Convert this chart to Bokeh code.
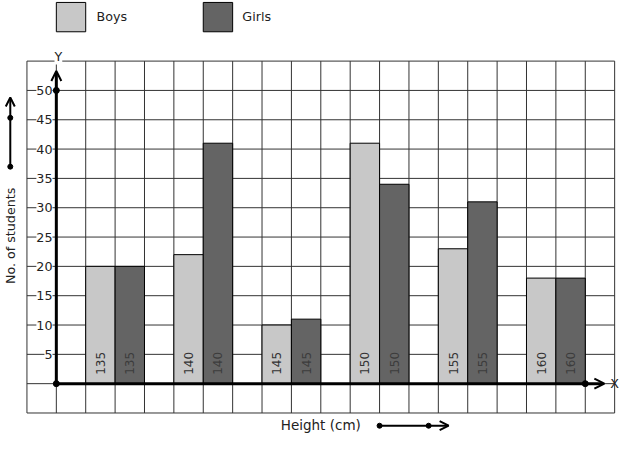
import numpy as np
from bokeh.plotting import figure
from bokeh.models import Range1d, Arrow, OpenHead
from bokeh.core.properties import value
from bokeh.embed import file_html
from bokeh.resources import INLINE

heights = ["135", "140", "145", "150", "155", "160"]
boys = [20, 22, 10, 41, 23, 18]
girls = [20, 41, 11, 34, 31, 18]
y_ticks = [5, 10, 15, 20, 25, 30, 35, 40, 45, 50]

FONT = value("DejaVu Sans")

p = figure(width=621, height=434, x_range=Range1d(-1.9, 19.233), y_range=Range1d(-8.667, 65.333),
           output_backend="svg", toolbar_location=None, min_border=0)
p.axis.visible = False
p.grid.visible = False
p.outline_line_color = None

# grid
gx = list(range(-1, 20))
gy = list(range(-5, 56, 5))
p.segment(x0=gx, y0=[-5] * len(gx), x1=gx, y1=[55] * len(gx), line_color="#333333", line_width=1)
p.segment(x0=[-1] * len(gy), y0=gy, x1=[19] * len(gy), y1=gy, line_color="#333333", line_width=1)

# bars
n = len(heights)
bx = [1.5 + 3 * i for i in range(n)]
gxpos = [2.5 + 3 * i for i in range(n)]
p.vbar(x=bx, top=boys, bottom=0, width=1, fill_color="#c8c8c8", line_color="black", line_width=1)
p.vbar(x=gxpos, top=girls, bottom=0, width=1, fill_color="#646464", line_color="black", line_width=1)

# bar labels
p.text(x=bx, y=[1.5] * n, text=heights, angle=np.pi / 2, text_align="left", text_baseline="middle",
       text_font=FONT, text_font_size="12px", text_color="#333333")
p.text(x=gxpos, y=[1.5] * n, text=heights, angle=np.pi / 2, text_align="left", text_baseline="middle",
       text_font=FONT, text_font_size="12px", text_color="#3c3c3c")

# y tick labels
p.text(x=[-0.13] * len(y_ticks), y=y_ticks, text=[str(t) for t in y_ticks], text_align="right",
       text_baseline="middle", text_font=FONT, text_font_size="12.7px", text_color="#222222",
       background_fill_color="white")

# axes
p.add_layout(Arrow(x_start=0, y_start=0, x_end=18.65, y_end=0, line_width=3, line_color="black",
                   end=OpenHead(size=10, line_width=2, line_color="black")))
p.add_layout(Arrow(x_start=0, y_start=0, x_end=0, y_end=53.3, line_width=3, line_color="black",
                   end=OpenHead(size=10, line_width=2, line_color="black")))
p.scatter(x=[0, 0, 18], y=[0, 50, 0], size=6, color="black")
p.text(x=[0.07], y=[55.7], text=["Y"], text_align="center", text_baseline="middle", text_font=FONT,
       text_font_size="12.7px", text_color="#222222", background_fill_color="white")
p.text(x=[19.0], y=[0], text=["X"], text_align="center", text_baseline="middle", text_font=FONT,
       text_font_size="12.7px", text_color="#222222")

# y axis title with arrow
p.text(x=[-1.567], y=[25.2], text=["No. of students"], angle=np.pi / 2, text_align="center",
       text_baseline="middle", text_font=FONT, text_font_size="12.7px", text_color="#222222")
p.add_layout(Arrow(x_start=-1.567, y_start=37, x_end=-1.567, y_end=48.8, line_width=2, line_color="black",
                   end=OpenHead(size=9, line_width=2, line_color="black")))
p.scatter(x=[-1.567, -1.567], y=[37, 45.33], size=5, color="black")

# x axis title with arrow
p.text(x=[9], y=[-7.0], text=["Height (cm)"], text_align="center", text_baseline="middle",
       text_font=FONT, text_font_size="13.5px", text_color="#222222")
p.add_layout(Arrow(x_start=11, y_start=-7.17, x_end=13.35, y_end=-7.17, line_width=2, line_color="black",
                   end=OpenHead(size=9, line_width=2, line_color="black")))
p.scatter(x=[11, 12.67], y=[-7.17, -7.17], size=5, color="black")

# legend
p.quad(left=[0, 5], right=[1, 6], bottom=[60, 60], top=[65, 65],
       fill_color=["#c8c8c8", "#646464"], line_color="black", line_width=1)
p.text(x=[1.37, 6.33], y=[62.67, 62.67], text=["Boys", "Girls"], text_align="left", text_baseline="middle",
       text_font=FONT, text_font_size="12.7px", text_color="#222222")

open("out.html", "w").write(file_html(p, INLINE))
